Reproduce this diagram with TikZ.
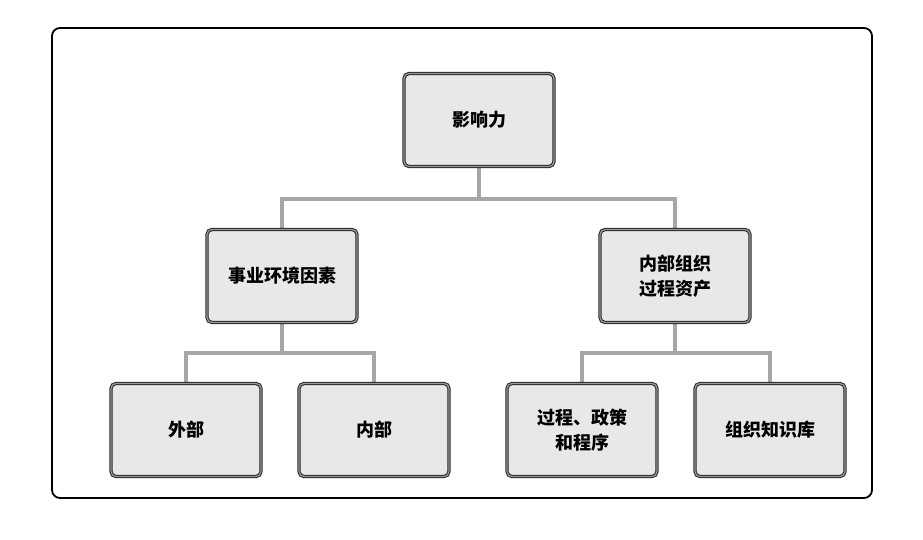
\documentclass[tikz,border=0pt]{standalone}
\usepackage{fontspec}
\setmainfont{Noto Sans CJK SC}
\begin{document}
\begin{tikzpicture}[x=1pt,y=-1pt,
 box/.style={draw=black!85,line width=1pt,double=black!40,double distance=1.3pt,fill=black!9,rounded corners=5pt,minimum width=150pt,minimum height=93pt,align=center,font=\fontsize{18}{25}\selectfont\bfseries,inner sep=0pt},
 con/.style={draw=black!35,line width=3.5pt}]
\useasboundingbox (0,0) rectangle (923,539);
\draw[line width=1.8pt,rounded corners=8pt] (52,28) rectangle (872,498);
\path[con] (479,168) -- (479,199) -- (282,199) -- (282,229);
\path[con] (479,199) -- (675,199) -- (675,229);
\path[con] (282,323) -- (282,353) -- (186,353) -- (186,383);
\path[con] (282,353) -- (374,353) -- (374,383);
\path[con] (675,323) -- (675,353) -- (582,353) -- (582,383);
\path[con] (675,353) -- (770,353) -- (770,383);
\node[box] (a) at (479,120) {影响力};
\node[box] (b) at (282,276) {事业环境因素};
\node[box] (c) at (675,276) {内部组织\\过程资产};
\node[box] (d) at (186,430) {外部};
\node[box] (e) at (374,430) {内部};
\node[box] (f) at (582,430) {过程、政策\\和程序};
\node[box] (g) at (770,430) {组织知识库};
\end{tikzpicture}
\end{document}
